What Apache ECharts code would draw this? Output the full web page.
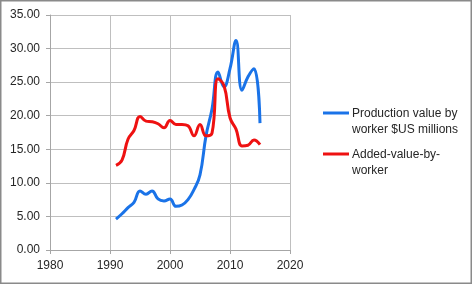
<!DOCTYPE html>
<html><head><meta charset="utf-8">
<script src="https://cdn.jsdelivr.net/npm/echarts@6/dist/echarts.min.js"></script>
<style>html,body{margin:0;padding:0;background:#fff}#c{width:472px;height:284px}</style>
</head><body><div id="c"></div>
<script>
var years = [1991,1992,1993,1994,1995,1996,1997,1998,1999,2000,2001,2002,2003,2004,2005,2006,2007,2008,2009,2010,2011,2012,2013,2014,2015];
var productionValue = [4.6,5.4,6.3,7.1,8.8,8.3,8.8,7.6,7.3,7.6,6.5,6.7,7.5,9.0,11.2,17.0,21.0,26.5,24.3,27.0,31.2,23.8,25.8,27.0,18.9];
var addedValue = [12.6,13.4,16.5,17.8,19.9,19.2,19.1,18.8,18.2,19.3,18.7,18.7,18.5,17.0,18.7,17.0,17.4,25.5,24.5,19.7,18.0,15.5,15.6,16.4,15.7];
var seriesNames = ['Production value by worker $US millions','Added-value-by-worker'];
var legendLines = [['Production value by','worker $US millions'],['Added-value-by-','worker']];
var colors = ['#1a73e8','#ee1111'];

function pairs(vals){ return years.map(function(y,i){ return [y, vals[i]]; }); }
var font = 'Liberation Sans, Arial, sans-serif';
var chart = echarts.init(document.getElementById('c'));
var legendGraphics = [];
var ly = [113, 154];
for (var k=0;k<2;k++){
  legendGraphics.push({type:'line', shape:{x1:323,y1:ly[k],x2:349,y2:ly[k]}, style:{stroke:colors[k], lineWidth:3}});
  legendGraphics.push({type:'text', x:352, y:ly[k]-8, style:{text:legendLines[k].join('\n'), font:'12px '+font, fill:'#262626', verticalAlign:'top', lineHeight:16.5}});
}
legendGraphics.push({type:'rect', shape:{x:0.75,y:0.75,width:470.5,height:282.5}, style:{fill:'none', stroke:'#8a8a8a', lineWidth:1.5}});

chart.setOption({
  animation:false,
  grid:{left:50,right:182,top:15,bottom:34},
  xAxis:{type:'value',min:1980,max:2020,interval:10,
    axisLine:{show:true,lineStyle:{color:'#a6a6a6'}},
    axisTick:{show:true,length:4,inside:false,lineStyle:{color:'#a6a6a6'}},
    axisLabel:{color:'#262626',fontFamily:font,fontSize:12,margin:10,formatter:function(v){return String(v);}},
    splitLine:{show:true,lineStyle:{color:'#bfbfbf'}}},
  yAxis:{type:'value',min:0,max:35,interval:5,
    axisLine:{show:true,lineStyle:{color:'#a6a6a6'}},
    axisTick:{show:true,length:4,lineStyle:{color:'#a6a6a6'}},
    axisLabel:{color:'#262626',fontFamily:font,fontSize:12,margin:10,formatter:function(v){return v.toFixed(2);}},
    splitLine:{show:true,lineStyle:{color:'#bfbfbf'}}},
  series:[
    {name:seriesNames[0],type:'line',data:pairs(productionValue),smooth:0.45,showSymbol:false,lineStyle:{color:colors[0],width:3},itemStyle:{color:colors[0]}},
    {name:seriesNames[1],type:'line',data:pairs(addedValue),smooth:0.45,showSymbol:false,lineStyle:{color:colors[1],width:3},itemStyle:{color:colors[1]}}
  ],
  graphic:legendGraphics
});
</script></body></html>
